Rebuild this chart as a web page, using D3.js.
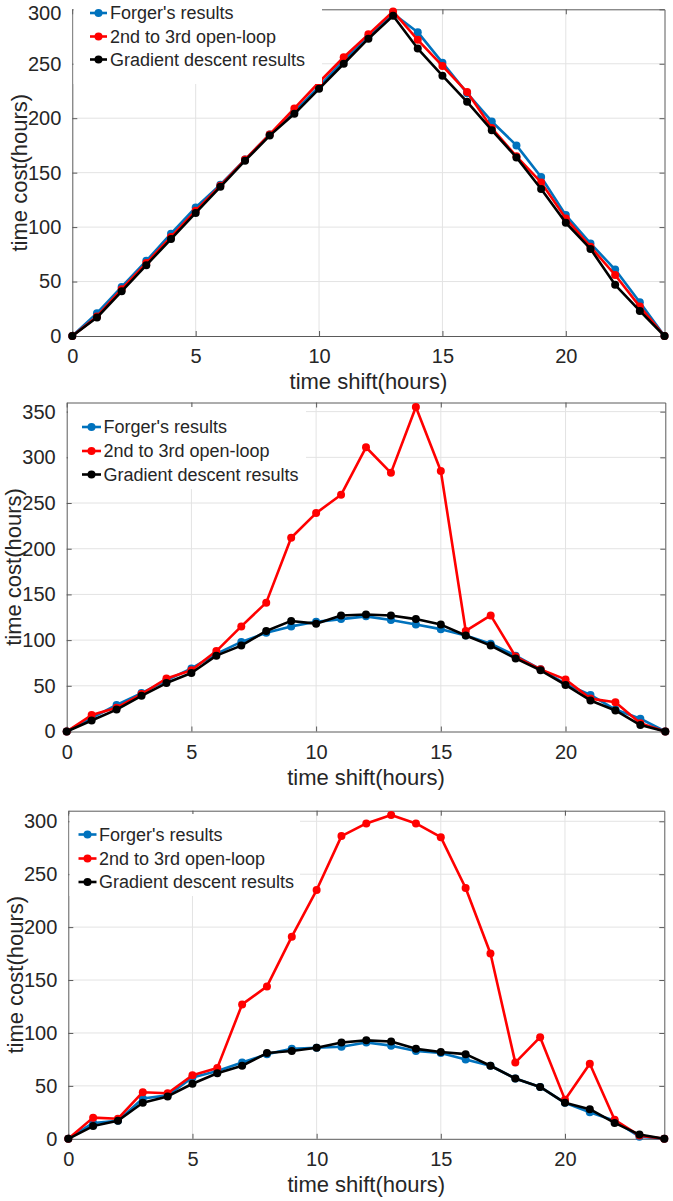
<!DOCTYPE html>
<html>
<head>
<meta charset="utf-8">
<script src="https://cdn.jsdelivr.net/npm/d3@7"></script>
<style>
  html, body { margin: 0; padding: 0; background: #fff; }
  svg { display: block; }
  text { font-family: "Liberation Sans", Arial, Helvetica, sans-serif; fill: #262626; }
</style>
</head>
<body>
<svg id="chart" width="673" height="1201"></svg>
<script>
// ---------- data ----------
const hours = [0,1,2,3,4,5,6,7,8,9,10,11,12,13,14,15,16,17,18,19,20,21,22,23,24];
const xTicks = [0,5,10,15,20];
const seriesNames = ["Forger's results", "2nd to 3rd open-loop", "Gradient descent results"];

const p1Forger   = [0,21,45,69,94,118,139,162,185,206,229,253,275,296,279,251,223,197,175,146,111,85,61,31,0];
const p1OpenLoop = [0,18,43,67,91,115,138,162,185,209,233,256,277,298,272,248,224,191,165,141,108,82,56,27,0];
const p1Gradient = [0,17,41,65,89,113,137,161,184,204,227,250,273,294,264,239,215,189,164,135,104,80,47,23,0];
const p1YTicks = [0,50,100,150,200,250,300];

const p2Forger   = [0,15,29,42,56,69,85,98,108,115,120,123,126,122,117,112,105,96,83,68,52,40,24,14,0];
const p2OpenLoop = [0,18,26,41,58,67,88,115,141,212,239,259,311,283,355,285,110,127,82,68,57,36,32,9,0];
const p2Gradient = [0,12,24,39,53,64,83,94,110,121,118,127,128,127,123,117,105,94,80,67,51,34,23,7,0];
const p2YTicks = [0,50,100,150,200,250,300,350];

const p3Forger   = [0,15,17,38,41,58,64,72,80,85,86,87,91,88,83,81,75,69,57,49,34,25,17,2,0];
const p3OpenLoop = [0,20,19,44,43,60,67,127,144,191,235,286,298,306,298,285,237,175,72,96,37,71,18,3,0];
const p3Gradient = [0,12,17,34,40,52,62,69,81,83,86,91,93,92,85,82,80,69,57,49,34,28,15,4,0];
const p3YTicks = [0,50,100,150,200,250,300];

// ---------- layout ----------
const colors = ["#0072BD", "#FF0000", "#000000"];
const panels = [
  { series: [p1Forger, p1OpenLoop, p1Gradient], yMax: 300, yTicks: p1YTicks,
    left: 72.3, right: 664.5, top: 9.3, bottom: 336, ylabelX: 27,
    legend: { x0: 90, x1: 107, tx: 110, ys: [13, 36.5, 59.5], box: [73.5, 0, 322, 84] } },
  { series: [p2Forger, p2OpenLoop, p2Gradient], yMax: 360, yTicks: p2YTicks,
    left: 66.7, right: 665.3, top: 402.5, bottom: 731.5, ylabelX: 21,
    legend: { x0: 82, x1: 101, tx: 103.5, ys: [427, 451, 474.5], box: [68, 407, 306, 489] } },
  { series: [p3Forger, p3OpenLoop, p3Gradient], yMax: 310, yTicks: p3YTicks,
    left: 68.3, right: 664.3, top: 810.7, bottom: 1138.8, ylabelX: 23,
    legend: { x0: 78.5, x1: 96.5, tx: 99, ys: [834.5, 858.5, 882], box: [69.5, 814, 300, 896] } }
];

const svg = d3.select("#chart");

panels.forEach((p, pi) => {
  const x = d3.scaleLinear().domain([0, 24]).range([p.left, p.right]);
  const y = d3.scaleLinear().domain([0, p.yMax]).range([p.bottom, p.top]);
  const g = svg.append("g");

  // grid
  g.append("g").selectAll("line").data(xTicks.filter(t => t > 0)).join("line")
    .attr("x1", d => x(d)).attr("x2", d => x(d))
    .attr("y1", p.top).attr("y2", p.bottom)
    .attr("stroke", "#e3e3e3").attr("stroke-width", 1);
  g.append("g").selectAll("line").data(p.yTicks.filter(t => t > 0 && t < p.yMax)).join("line")
    .attr("x1", p.left).attr("x2", p.right)
    .attr("y1", d => y(d)).attr("y2", d => y(d))
    .attr("stroke", "#e3e3e3").attr("stroke-width", 1);

  // axes (ticks inward) on all four sides
  const axisColor = "#5a5a5a";
  const bottomAxis = g.append("g").attr("transform", `translate(0,${p.bottom})`)
    .call(d3.axisBottom(x).tickValues(xTicks).tickSizeInner(-5).tickSizeOuter(0).tickPadding(13).tickFormat(d3.format("d")));
  const leftAxis = g.append("g").attr("transform", `translate(${p.left},0)`)
    .call(d3.axisLeft(y).tickValues(p.yTicks).tickSizeInner(-5).tickSizeOuter(0).tickPadding(11).tickFormat(d3.format("d")));
  const topAxis = g.append("g").attr("transform", `translate(0,${p.top})`)
    .call(d3.axisTop(x).tickValues(xTicks).tickSizeInner(-5).tickSizeOuter(0).tickFormat(""));
  const rightAxis = g.append("g").attr("transform", `translate(${p.right},0)`)
    .call(d3.axisRight(y).tickValues(p.yTicks).tickSizeInner(-5).tickSizeOuter(0).tickFormat(""));
  [bottomAxis, leftAxis, topAxis, rightAxis].forEach(a => {
    a.select(".domain").attr("stroke", axisColor).attr("stroke-width", 1);
    a.selectAll(".tick line").attr("stroke", axisColor);
    a.selectAll(".tick text").style("font-size", "20px").attr("fill", "#262626")
      .style("font-family", '"Liberation Sans", Arial, sans-serif');
  });
  // keep the top tick label of the first panel inside the picture
  if (pi === 0) {
    leftAxis.selectAll(".tick text").filter(d => d === p.yMax).attr("dy", "0.5em");
  }

  // series
  const line = d3.line().x((d, i) => x(hours[i])).y(d => y(d));
  p.series.forEach((vals, si) => {
    g.append("path").datum(vals).attr("d", line)
      .attr("fill", "none").attr("stroke", colors[si]).attr("stroke-width", 2.6)
      .attr("stroke-linejoin", "round");
    g.append("g").selectAll("circle").data(vals).join("circle")
      .attr("cx", (d, i) => x(hours[i])).attr("cy", d => y(d)).attr("r", 4)
      .attr("fill", colors[si]);
  });

  // legend
  const L = p.legend;
  g.append("rect").attr("x", L.box[0]).attr("y", L.box[1])
    .attr("width", L.box[2] - L.box[0]).attr("height", L.box[3] - L.box[1]).attr("fill", "#fff");
  seriesNames.forEach((name, si) => {
    const ly = L.ys[si];
    g.append("line").attr("x1", L.x0).attr("x2", L.x1).attr("y1", ly).attr("y2", ly)
      .attr("stroke", colors[si]).attr("stroke-width", 2.6);
    g.append("circle").attr("cx", (L.x0 + L.x1) / 2).attr("cy", ly).attr("r", 4).attr("fill", colors[si]);
    g.append("text").attr("x", L.tx).attr("y", ly).attr("dy", "0.35em")
      .style("font-size", "18px").attr("fill", "#000").text(name);
  });

  // axis labels
  g.append("text").attr("x", (p.left + p.right) / 2).attr("y", p.bottom + 53)
    .attr("text-anchor", "middle").style("font-size", "22px").text("time shift(hours)");
  g.append("text")
    .attr("transform", `translate(${p.ylabelX},${(p.top + p.bottom) / 2}) rotate(-90)`)
    .attr("text-anchor", "middle").style("font-size", "22px").text("time cost(hours)");
});
</script>
</body>
</html>
